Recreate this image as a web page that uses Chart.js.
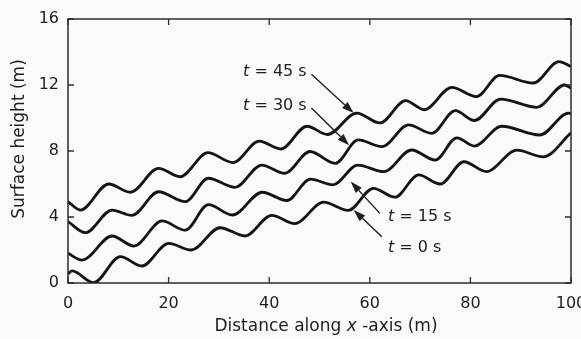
<!DOCTYPE html>
<html>
<head>
<meta charset="utf-8">
<script src="https://cdn.jsdelivr.net/npm/chart.js@4.4.1/dist/chart.umd.min.js"></script>
<style>
  html, body { margin: 0; padding: 0; background: #fcf9fc; }
</style>
</head>
<body>
<canvas id="grafico" width="581" height="339"></canvas>
<script>
// Valores (crestas y valles de cada perfil)
const xT0 = [0, 0.8, 5.1, 10.4, 14.7, 20.0, 24.5, 30.2, 35.2, 40.5, 45.1, 50.8, 55.7, 60.7, 65.0, 69.7, 74.0, 78.7, 83.2, 89.2, 94.5, 100];
const yT0 = [0.55, 0.73, 0.02, 1.6, 1.03, 2.4, 2.0, 3.35, 2.85, 4.1, 3.6, 4.9, 4.4, 5.74, 5.2, 6.55, 6.0, 7.35, 6.75, 8.05, 7.65, 9.1];

const xT15 = [0, 2.8, 8.75, 13.1, 18.7, 23.3, 27.9, 32.7, 38.6, 43.5, 48.2, 52.7, 57.6, 62.8, 68.3, 73.0, 77.3, 80.8, 86.2, 93.8, 99.5, 100];
const yT15 = [1.8, 1.39, 2.85, 2.24, 3.76, 3.2, 4.75, 4.12, 5.5, 5.0, 6.3, 5.95, 7.15, 6.75, 8.06, 7.45, 8.8, 8.3, 9.5, 8.97, 10.3, 10.25];

const xT30 = [0, 3.45, 8.75, 12.7, 18.0, 23.3, 27.9, 33.2, 38.5, 43.1, 48.1, 53.1, 57.7, 62.4, 67.7, 72.3, 77.0, 80.8, 86.0, 93.2, 98.7, 100];
const yT30 = [3.72, 3.05, 4.42, 4.1, 5.53, 4.93, 6.35, 5.8, 7.15, 6.65, 7.97, 7.25, 8.67, 8.26, 9.58, 9.07, 10.45, 9.85, 11.15, 10.65, 12.0, 11.8];

const xT45 = [0, 2.45, 8.1, 12.4, 18.0, 22.3, 27.8, 32.8, 38.0, 42.3, 47.5, 51.6, 57.4, 62.0, 67.1, 70.8, 76.3, 81.2, 85.8, 92.5, 97.6, 100];
const yT45 = [4.93, 4.42, 6.0, 5.5, 6.95, 6.44, 7.9, 7.3, 8.6, 8.12, 9.5, 9.0, 10.3, 9.7, 11.05, 10.5, 11.86, 11.3, 12.58, 12.12, 13.42, 13.12];

const ticksX = [0, 20, 40, 60, 80, 100];
const ticksY = [0, 4, 8, 12, 16];

const FUENTE = '"DejaVu Sans", "Liberation Sans", Arial, sans-serif';
const TINTA = '#1e1e1e';

// Etiquetas con flecha (posición en unidades de los ejes)
const etiquetas = [
  { texto: ' = 45 s', tx: 34.8, ty: 12.8, desde: [48.4, 12.65], hasta: [56.8, 10.3] },
  { texto: ' = 30 s', tx: 34.8, ty: 10.75, desde: [48.4, 10.6], hasta: [55.9, 8.35] },
  { texto: ' = 15 s', tx: 63.6, ty: 4.02, desde: [62.0, 4.22], hasta: [56.2, 6.15] },
  { texto: ' = 0 s', tx: 63.6, ty: 2.16, desde: [62.4, 2.8], hasta: [56.8, 4.42] }
];

function puntos(xs, ys) {
  return xs.map((x, i) => ({ x: x, y: ys[i] }));
}

function serie(nombre, xs, ys) {
  return {
    label: nombre,
    data: puntos(xs, ys),
    showLine: true,
    borderColor: '#141414',
    borderWidth: 2.8,
    pointRadius: 0,
    cubicInterpolationMode: 'monotone',
    fill: false
  };
}

const fondo = {
  id: 'fondo',
  beforeDraw(chart) {
    const ctx = chart.ctx;
    ctx.save();
    ctx.fillStyle = '#fcf9fc';
    ctx.fillRect(0, 0, chart.width, chart.height);
    ctx.restore();
  }
};

function flecha(ctx, x1, y1, x2, y2) {
  const ang = Math.atan2(y2 - y1, x2 - x1);
  const largo = 12, ancho = 4;
  const bx = x2 - largo * Math.cos(ang);
  const by = y2 - largo * Math.sin(ang);
  ctx.beginPath();
  ctx.moveTo(x1, y1);
  ctx.lineTo(bx, by);
  ctx.stroke();
  ctx.beginPath();
  ctx.moveTo(x2, y2);
  ctx.lineTo(bx - ancho * Math.sin(ang), by + ancho * Math.cos(ang));
  ctx.lineTo(bx + ancho * Math.sin(ang), by - ancho * Math.cos(ang));
  ctx.closePath();
  ctx.fill();
}

// escribe trozos seguidos, algunos en cursiva, centrados en (cx, cy)
function textoMixto(ctx, trozos, cx, cy, size) {
  let total = 0;
  trozos.forEach(t => {
    ctx.font = (t.cursiva ? 'italic ' : '') + size + 'px ' + FUENTE;
    t.w = ctx.measureText(t.s).width;
    total += t.w;
  });
  let px = cx - total / 2;
  trozos.forEach(t => {
    ctx.font = (t.cursiva ? 'italic ' : '') + size + 'px ' + FUENTE;
    ctx.fillText(t.s, px, cy);
    px += t.w;
  });
}

const marco = {
  id: 'marco',
  afterDraw(chart) {
    const { ctx, chartArea: a, scales: { x, y } } = chart;
    ctx.save();
    ctx.strokeStyle = '#2b2b2b';
    ctx.lineWidth = 1.5;
    ctx.strokeRect(a.left, a.top, a.right - a.left, a.bottom - a.top);

    // marcas hacia adentro en los cuatro lados
    ctx.lineWidth = 1.3;
    ctx.beginPath();
    ticksX.forEach(v => {
      const px = x.getPixelForValue(v);
      ctx.moveTo(px, a.bottom); ctx.lineTo(px, a.bottom - 6);
      ctx.moveTo(px, a.top); ctx.lineTo(px, a.top + 6);
    });
    ticksY.forEach(v => {
      const py = y.getPixelForValue(v);
      ctx.moveTo(a.left, py); ctx.lineTo(a.left + 6, py);
      ctx.moveTo(a.right, py); ctx.lineTo(a.right - 6, py);
    });
    ctx.stroke();

    // títulos de los ejes
    ctx.fillStyle = TINTA;
    ctx.textBaseline = 'middle';
    textoMixto(ctx, [
      { s: 'Distance along ' },
      { s: 'x', cursiva: true },
      { s: ' -axis (m)' }
    ], 326, 327, 17);
    ctx.save();
    ctx.translate(20, 139);
    ctx.rotate(-Math.PI / 2);
    textoMixto(ctx, [{ s: 'Surface height (m)' }], 0, 0, 17);
    ctx.restore();

    // textos t = ... y flechas
    ctx.strokeStyle = TINTA;
    ctx.lineWidth = 1.4;
    etiquetas.forEach(e => {
      const px = x.getPixelForValue(e.tx);
      const py = y.getPixelForValue(e.ty);
      ctx.font = 'italic 16px ' + FUENTE;
      ctx.fillText('t', px, py);
      const w = ctx.measureText('t').width;
      ctx.font = '16px ' + FUENTE;
      ctx.fillText(e.texto, px + w, py);
      flecha(ctx,
        x.getPixelForValue(e.desde[0]), y.getPixelForValue(e.desde[1]),
        x.getPixelForValue(e.hasta[0]), y.getPixelForValue(e.hasta[1]));
    });
    ctx.restore();
  }
};

new Chart(document.getElementById('grafico'), {
  type: 'scatter',
  data: {
    datasets: [
      serie('t = 0 s', xT0, yT0),
      serie('t = 15 s', xT15, yT15),
      serie('t = 30 s', xT30, yT30),
      serie('t = 45 s', xT45, yT45)
    ]
  },
  options: {
    responsive: false,
    animation: false,
    events: [],
    layout: { padding: { top: 19, right: 10, left: 0, bottom: 0 } },
    plugins: {
      legend: { display: false },
      tooltip: { enabled: false }
    },
    scales: {
      x: {
        type: 'linear',
        min: 0,
        max: 100,
        afterBuildTicks: s => { s.ticks = ticksX.map(v => ({ value: v })); },
        afterFit: s => { s.height = 56; s.paddingLeft = 0; s.paddingRight = 0; },
        grid: { display: false, drawTicks: false },
        border: { display: false },
        ticks: { autoSkip: false, maxRotation: 0, padding: 11, color: TINTA, font: { family: FUENTE, size: 16 } },
        title: { display: false, text: 'Distance along x -axis (m)' }
      },
      y: {
        min: 0,
        max: 16,
        afterBuildTicks: s => { s.ticks = ticksY.map(v => ({ value: v })); },
        afterFit: s => { s.width = 68; s.paddingTop = 0; s.paddingBottom = 0; },
        grid: { display: false, drawTicks: false },
        border: { display: false },
        ticks: { padding: 9, color: TINTA, font: { family: FUENTE, size: 16 } },
        title: { display: false, text: 'Surface height (m)' }
      }
    }
  },
  plugins: [fondo, marco]
});
</script>
</body>
</html>
